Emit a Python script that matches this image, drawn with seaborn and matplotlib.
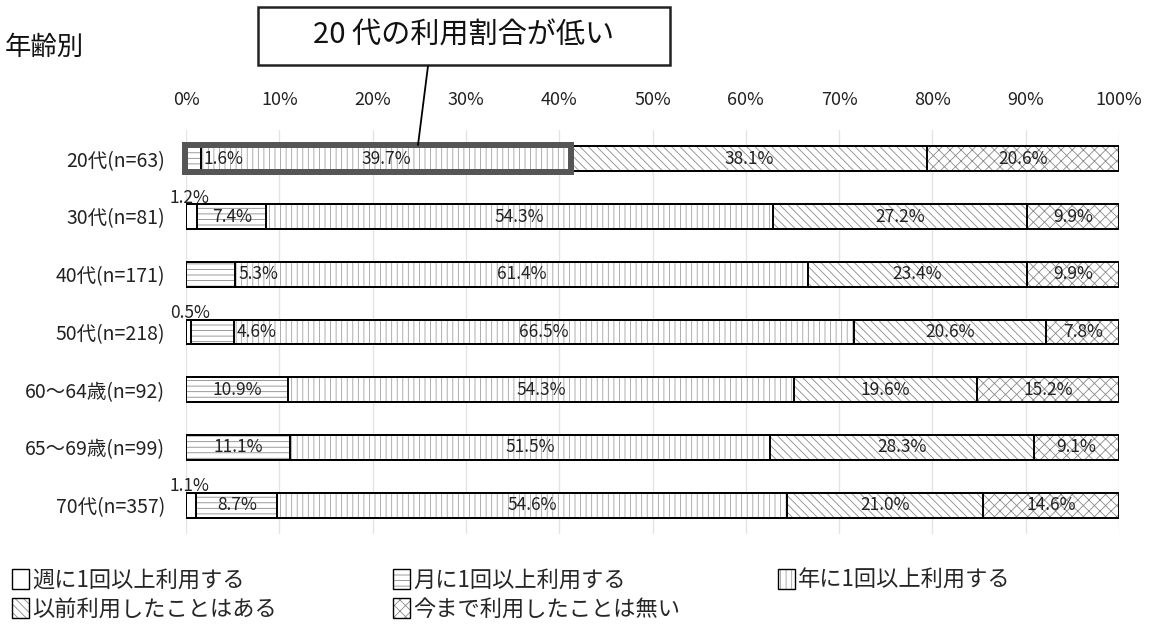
import matplotlib
matplotlib.use("Agg")
import matplotlib.pyplot as plt
import seaborn as sns
from matplotlib.patches import Patch, Rectangle
from matplotlib.lines import Line2D
from matplotlib.legend_handler import HandlerTuple

# データ(%)
categories = ["20代(n=63)", "30代(n=81)", "40代(n=171)", "50代(n=218)",
              "60～64歳(n=92)", "65～69歳(n=99)", "70代(n=357)"]
series_names = ["週に1回以上利用する", "月に1回以上利用する", "年に1回以上利用する",
                "以前利用したことはある", "今まで利用したことは無い"]
weekly = [0, 1.2, 0, 0.5, 0, 0, 1.1]
monthly = [1.6, 7.4, 5.3, 4.6, 10.9, 11.1, 8.7]
yearly = [39.7, 54.3, 61.4, 66.5, 54.3, 51.5, 54.6]
before = [38.1, 27.2, 23.4, 20.6, 19.6, 28.3, 21.0]
never = [20.6, 9.9, 9.9, 7.8, 15.2, 9.1, 14.6]
x_ticks = list(range(0, 101, 10))

sns.set_theme(style="white")
plt.rcParams["font.family"] = ["Noto Sans CJK JP", "DejaVu Sans"]
plt.rcParams["hatch.linewidth"] = 0.6

series = [weekly, monthly, yearly, before, never]
hatches = ["", "---", "|||", "\\\\\\\\", "xxx"]
hatch_cols = ["#8a8a8a", "#8a8a8a", "#a0a0a0", "#8a8a8a", "#8a8a8a"]

# 累積値(積み上げ用)
cums = []
run = [0] * len(categories)
for s in series:
    run = [a + b for a, b in zip(run, s)]
    cums.append(run)

W, H = 1154, 630
fig = plt.figure(figsize=(W / 100, H / 100), dpi=100)
ax = fig.add_axes([186 / W, 1 - 534 / H, 933 / W, 404 / H])

# 右から順に重ねて描く
for k in range(len(series) - 1, -1, -1):
    sns.barplot(x=cums[k], y=categories, orient="h", color="white",
                edgecolor=hatch_cols[k], linewidth=0, hatch=hatches[k],
                width=0.43, ax=ax)
for k in range(len(series) - 1, -1, -1):
    sns.barplot(x=cums[k], y=categories, orient="h", fill=False,
                color="black", linewidth=1.4, width=0.43, ax=ax)

# ラベル
for i in range(len(categories)):
    start = 0
    for k, s in enumerate(series):
        v = s[i]
        end = start + v
        if v > 0:
            txt = f"{v:.1f}%"
            if k == 0 and v < 3:
                ax.text(0.4, i - 0.33, txt, ha="center", va="center",
                        fontsize=12.5, color="#222")
            elif v < 6:
                ax.text(end + 0.3, i, txt, ha="left", va="center",
                        fontsize=12.5, color="#222")
            else:
                ax.text((start + end) / 2, i, txt, ha="center", va="center",
                        fontsize=12.5, color="#222")
        start = end

ax.set_xlim(0, 100)
ax.set_ylim(len(categories) - 0.5, -0.5)
ax.xaxis.tick_top()
ax.set_xticks(x_ticks)
ax.set_xticklabels([f"{t}%" for t in x_ticks])
ax.tick_params(axis="x", length=0, pad=15, labelsize=13, labelcolor="#222")
ax.tick_params(axis="y", length=0, pad=15, labelsize=14, labelcolor="#222")
ax.set_xlabel("")
ax.set_ylabel("")
ax.grid(axis="x", color="#e4e4e4", linewidth=1)
ax.set_axisbelow(True)
for sp in ax.spines.values():
    sp.set_visible(False)

# 20代の強調枠
ax.add_patch(Rectangle((-0.15, -0.235), cums[2][0] + 0.15, 0.47, fill=False,
                       edgecolor="#555555", linewidth=4.3, clip_on=False, zorder=5))

# 注記
fig.add_artist(Rectangle((258 / W, 1 - 65 / H), 412 / W, 58 / H,
                         transform=fig.transFigure, fill=False,
                         edgecolor="#222", linewidth=1.8))
fig.text(464 / W, 1 - 36 / H, "20 代の利用割合が低い", ha="center", va="center",
         fontsize=21, color="#111")
fig.add_artist(Line2D([428 / W, 418 / W], [1 - 66 / H, 1 - 145 / H],
                      transform=fig.transFigure, color="black", linewidth=1.3))
fig.text(5 / W, 1 - 47 / H, "年齢別", ha="left", va="center", fontsize=19,
         color="#111")

# 凡例
def handle(k):
    return (Patch(facecolor="white", edgecolor=hatch_cols[k], linewidth=0, hatch=hatches[k]),
            Patch(facecolor="none", edgecolor="black", linewidth=1.0))

cols = [[0, 3], [1, 4], [2]]
col_x = [12, 393, 778]
for c, xs in zip(cols, col_x):
    fig.legend([handle(k) for k in c], [series_names[k] for k in c],
               handler_map={tuple: HandlerTuple(ndivide=1, pad=0)},
               loc="upper left", bbox_to_anchor=(xs / W, 1 - 569 / H),
               frameon=False, fontsize=16, handlelength=0.75, handleheight=1.0,
               handletextpad=0.15, labelspacing=0.25, borderpad=0,
               borderaxespad=0)

fig.savefig("out.png", dpi=100)
